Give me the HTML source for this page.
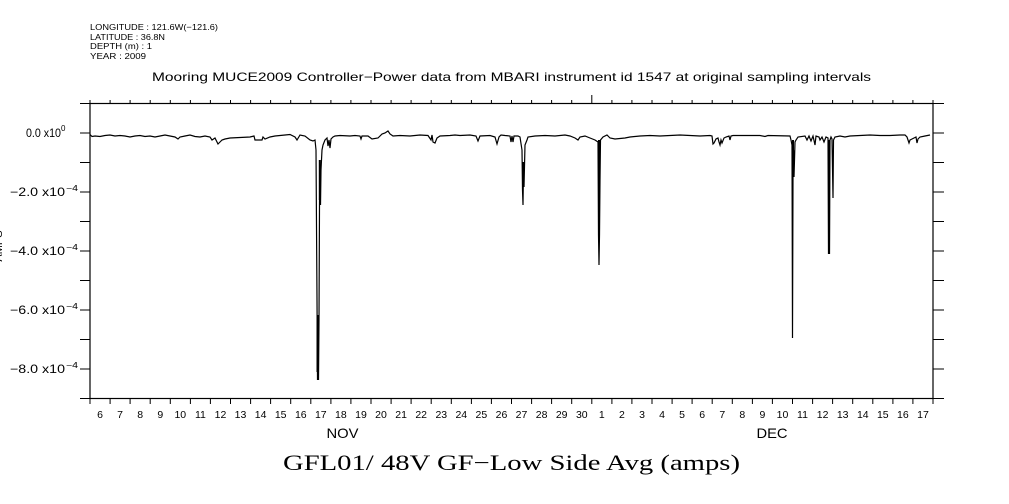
<!DOCTYPE html>
<html><head><meta charset="utf-8"><style>
html,body{margin:0;padding:0;background:#fff;}
svg{display:block;}
text{font-family:"Liberation Sans",sans-serif;fill:#000;}
</style></head><body>
<svg width="1009" height="504" viewBox="0 0 1009 504" xmlns="http://www.w3.org/2000/svg">
<rect width="1009" height="504" fill="#fff"/>
<!-- header -->
<text x="90" y="30" font-size="8.5" textLength="128" lengthAdjust="spacingAndGlyphs">LONGITUDE : 121.6W(−121.6)</text>
<text x="90" y="40" font-size="8.5" textLength="75" lengthAdjust="spacingAndGlyphs">LATITUDE : 36.8N</text>
<text x="90" y="49" font-size="8.5" textLength="62" lengthAdjust="spacingAndGlyphs">DEPTH (m) : 1</text>
<text x="90" y="59" font-size="8.5" textLength="56" lengthAdjust="spacingAndGlyphs">YEAR : 2009</text>
<text x="152" y="81" font-size="12" textLength="719" lengthAdjust="spacingAndGlyphs">Mooring MUCE2009 Controller−Power data from MBARI instrument id 1547 at original sampling intervals</text>
<!-- frame -->
<rect x="90" y="103.5" width="843" height="295" fill="none" stroke="#000" stroke-width="1.2"/>
<path stroke="#000" stroke-width="1" fill="none" d="
M90 100V103.5M110.1 100V103.5M130.1 100V103.5M150.2 100V103.5M170.3 100V103.5M190.4 100V103.5M210.4 100V103.5M230.5 100V103.5M250.6 100V103.5M270.6 100V103.5M290.7 100V103.5M310.8 100V103.5M330.9 100V103.5M350.9 100V103.5M371 100V103.5M391.1 100V103.5M411.1 100V103.5M431.2 100V103.5M451.3 100V103.5M471.4 100V103.5M491.4 100V103.5M511.5 100V103.5M531.6 100V103.5M551.6 100V103.5M571.7 100V103.5M591.8 95V103.5M611.9 100V103.5M631.9 100V103.5M652 100V103.5M672.1 100V103.5M692.1 100V103.5M712.2 100V103.5M732.3 100V103.5M752.4 100V103.5M772.4 100V103.5M792.5 100V103.5M812.6 100V103.5M832.6 100V103.5M852.7 100V103.5M872.8 100V103.5M892.9 100V103.5M912.9 100V103.5M933 100V103.5
M90 398.5V404M110.1 398.5V404M130.1 398.5V404M150.2 398.5V404M170.3 398.5V404M190.4 398.5V404M210.4 398.5V404M230.5 398.5V404M250.6 398.5V404M270.6 398.5V404M290.7 398.5V404M310.8 398.5V404M330.9 398.5V404M350.9 398.5V404M371 398.5V404M391.1 398.5V404M411.1 398.5V404M431.2 398.5V404M451.3 398.5V404M471.4 398.5V404M491.4 398.5V404M511.5 398.5V404M531.6 398.5V404M551.6 398.5V404M571.7 398.5V404M591.8 398.5V404M611.9 398.5V404M631.9 398.5V404M652 398.5V404M672.1 398.5V404M692.1 398.5V404M712.2 398.5V404M732.3 398.5V404M752.4 398.5V404M772.4 398.5V404M792.5 398.5V404M812.6 398.5V404M832.6 398.5V404M852.7 398.5V404M872.8 398.5V404M892.9 398.5V404M912.9 398.5V404M933 398.5V404
M80 103.5H90M80 133H90M80 162.5H90M80 192H90M80 221.5H90M80 251H90M80 280.5H90M80 310H90M80 339.5H90M80 369H90M80 398.5H90
M933 103.5H944M933 133H944M933 162.5H944M933 192H944M933 221.5H944M933 251H944M933 280.5H944M933 310H944M933 339.5H944M933 369H944M933 398.5H944"/>
<!-- y labels -->
<g font-size="11.5">
<text x="26" y="137" textLength="35" lengthAdjust="spacingAndGlyphs">0.0 x10</text><text x="61" y="131" font-size="8">0</text>
<text x="10" y="196" textLength="55" lengthAdjust="spacingAndGlyphs">−2.0 x10</text><text x="66" y="191" font-size="8" textLength="12" lengthAdjust="spacingAndGlyphs">−4</text>
<text x="10" y="255" textLength="55" lengthAdjust="spacingAndGlyphs">−4.0 x10</text><text x="66" y="250" font-size="8" textLength="12" lengthAdjust="spacingAndGlyphs">−4</text>
<text x="10" y="314" textLength="55" lengthAdjust="spacingAndGlyphs">−6.0 x10</text><text x="66" y="309" font-size="8" textLength="12" lengthAdjust="spacingAndGlyphs">−4</text>
<text x="10" y="373" textLength="55" lengthAdjust="spacingAndGlyphs">−8.0 x10</text><text x="66" y="368" font-size="8" textLength="12" lengthAdjust="spacingAndGlyphs">−4</text>
</g>
<text transform="translate(2,246) rotate(-90)" font-size="11" text-anchor="middle">AMPS</text>
<g font-size="10.5" text-anchor="middle">
<text x="100" y="418">6</text><text x="120.1" y="418">7</text><text x="140.2" y="418">8</text><text x="160.3" y="418">9</text><text x="180.3" y="418">10</text><text x="200.4" y="418">11</text><text x="220.5" y="418">12</text><text x="240.5" y="418">13</text><text x="260.6" y="418">14</text><text x="280.7" y="418">15</text><text x="300.8" y="418">16</text><text x="320.8" y="418">17</text><text x="340.9" y="418">18</text><text x="361" y="418">19</text><text x="381" y="418">20</text><text x="401.1" y="418">21</text><text x="421.2" y="418">22</text><text x="441.3" y="418">23</text><text x="461.3" y="418">24</text><text x="481.4" y="418">25</text><text x="501.5" y="418">26</text><text x="521.5" y="418">27</text><text x="541.6" y="418">28</text><text x="561.7" y="418">29</text><text x="581.8" y="418">30</text><text x="601.8" y="418">1</text><text x="621.9" y="418">2</text><text x="642" y="418">3</text><text x="662" y="418">4</text><text x="682.1" y="418">5</text><text x="702.2" y="418">6</text><text x="722.3" y="418">7</text><text x="742.3" y="418">8</text><text x="762.4" y="418">9</text><text x="782.5" y="418">10</text><text x="802.5" y="418">11</text><text x="822.6" y="418">12</text><text x="842.7" y="418">13</text><text x="862.8" y="418">14</text><text x="882.8" y="418">15</text><text x="902.9" y="418">16</text><text x="923" y="418">17</text>
</g>
<text x="342.5" y="438" font-size="14" text-anchor="middle" textLength="32" lengthAdjust="spacingAndGlyphs">NOV</text>
<text x="772" y="438" font-size="14" text-anchor="middle" textLength="31" lengthAdjust="spacingAndGlyphs">DEC</text>
<text x="283" y="470" font-size="22" textLength="457" lengthAdjust="spacingAndGlyphs" style="font-family:'Liberation Serif',serif">GFL01/ 48V GF−Low Side Avg (amps)</text>
<!-- data -->
<polyline fill="none" stroke="#000" stroke-width="1.2" stroke-linejoin="miter" points="
90,134.5 92,136.5 95,136 100,136.5 105,135.5 110,135 115,136 120,135.5 125,136 130,137 135,136 140,135.5 145,136.5 150,136 155,137 160,136 165,135 170,136 175,137 178,139 180,137 185,136 190,135 195,136.5 200,137 205,136 210,137 212,140 215,138 218,144 220,142 222,140 225,139 230,138 240,137.5 250,137 254,136 255,140 262,140 263,137 265,139 270,137 275,136 280,135.5 290,134.5 295,137 297,140 300,135 305,136 310,140 313,141 315,140 316,150 317,300 317.5,380 318,330 318.5,380 319,320 319.5,205 320,160 320.5,205 321,170 322,150 323,145 325,140 327,138 328,146 329,140 330,148 331,139 333,137 335,136 340,135.5 350,136 355,135.5 360,136 361,139 362,136 368,136 372,139 378,138 382,134 385,133 388,131 390,134 393,136 400,135.5 410,136 420,135 428,135.5 431,140 432,135 433,142 435,143 437,138 440,136 450,135.5 455,135 460,135.5 470,135 476,136 478,141 480,136 490,135.5 495,137 497,144 499,137 501,135 505,135.5 510,136 511,142 512,136 513,142 514,136 518,136 520,137 522,150 522.5,190 523,205 523.5,170 524,187 525,145 527,140 528,137 535,136 545,135.5 555,136 565,135 570,136 575,138 578,140 580,137 585,136 590,138 595,140 598,142 598.5,235 599,265 599.5,235 600,180 600.5,140 603,137 607,135 610,138 615,139 625,138 630,137 640,136 650,135.5 660,136 670,135.5 680,135 690,135.5 700,136 710,135.5 712,136 713,144 714,143 716,139 718,138 719,142 720,145 721,140 722,143 724,138 726,137 729,136 730,140 731,136 733,135.5 760,135.5 765,136.5 768,135.5 790,136 791,140 792,145 792.5,338 793,177 793.5,150 794,177 794.5,160 795,142 796,140 798,137 805,136 807,140 809,136 811,141 813,136 815,145 816,136 819,137 820,140 822,137 824,142 826,137 828,138 828.5,254 829,160 829.5,254 830,140 831,137 832,139 833,198 833.5,140 835,137 840,136 845,137 850,136 860,135.5 870,135 880,135.5 890,135.5 900,135 905,135 907,137 909,143 910,140 912,139 914,138 916,137 917,143 918,139 920,137 925,136 930,135"/>
<g stroke="#000" stroke-width="2">
<line x1="317.5" y1="315" x2="317.5" y2="372"/>
<line x1="319.8" y1="160" x2="319.8" y2="200"/>
<line x1="523" y1="162" x2="523" y2="187"/>
<line x1="599" y1="140" x2="599" y2="235"/>
<line x1="793" y1="140" x2="793" y2="177"/>
<line x1="829" y1="140" x2="829" y2="160"/>
</g>
</svg>
</body></html>
